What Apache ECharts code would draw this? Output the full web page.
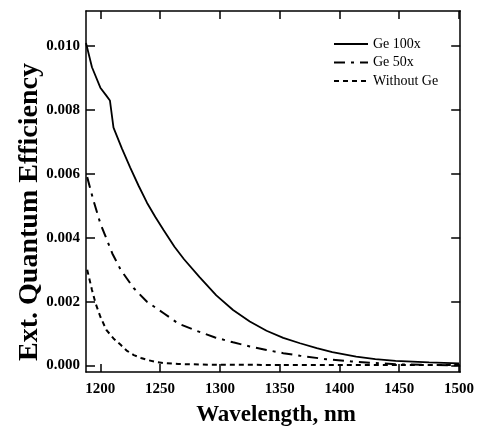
<!DOCTYPE html>
<html>
<head>
<meta charset="utf-8">
<script src="https://cdn.jsdelivr.net/npm/echarts@6/dist/echarts.min.js"></script>
<style>html,body{margin:0;padding:0;background:#fff}#c{width:477px;height:428px}</style>
</head>
<body>
<div id="c"></div>
<script>
var seriesNames = ['Ge 100x', 'Ge 50x', 'Without Ge'];
var xTicks = [1200, 1250, 1300, 1350, 1400, 1450, 1500];
var yTicks = [0.000, 0.002, 0.004, 0.006, 0.008, 0.010];

var ge100Nm = [1188, 1193, 1200, 1205, 1208, 1211, 1218, 1225, 1232, 1239, 1246, 1253, 1262, 1270, 1283, 1297, 1311, 1325, 1339, 1353, 1367, 1381, 1394, 1414, 1430, 1447, 1475, 1500];
var ge100Val = [0.0101, 0.00934, 0.0087, 0.00845, 0.0083, 0.00745, 0.0068, 0.0062, 0.00563, 0.0051, 0.00465, 0.00424, 0.00372, 0.00333, 0.00277, 0.0022, 0.00174, 0.00138, 0.00109, 0.00087, 0.0007, 0.00055, 0.00042, 0.00028, 0.0002, 0.00015, 0.0001, 0.00007];

var ge50Nm = [1189, 1194, 1200, 1204, 1210, 1217, 1228, 1239, 1253, 1265, 1281, 1296, 1311, 1325, 1339, 1353, 1367, 1389, 1410, 1430, 1450, 1475, 1500];
var ge50Val = [0.0059, 0.0052, 0.00445, 0.00408, 0.00351, 0.003, 0.00242, 0.002, 0.00164, 0.00132, 0.00108, 0.00088, 0.00073, 0.0006, 0.00049, 0.00039, 0.00031, 0.0002, 0.00013, 0.00008, 0.00004, 0.00002, 0.00001];

var noGeNm = [1189, 1193, 1196, 1200, 1205, 1211, 1217, 1222, 1228, 1234, 1239, 1246, 1253, 1265, 1290, 1350, 1400, 1450, 1500];
var noGeVal = [0.0030, 0.00237, 0.00195, 0.00153, 0.00112, 0.00085, 0.00065, 0.00047, 0.00033, 0.00024, 0.00018, 0.00012, 0.00008, 0.00005, 0.00003, 0.00002, 0.00002, 0.00002, 0.00002];

function pairs(xs, ys) { return xs.map(function (x, i) { return [x, ys[i]]; }); }

var FONT = 'Liberation Serif';
var axisLineStyle = { color: '#000', width: 1.5 };

function xAxisDef(pos, showLabel) {
  return {
    type: 'value', position: pos, min: 1188, max: 1501,
    axisLine: { show: true, onZero: false, lineStyle: axisLineStyle },
    axisTick: { show: true, inside: true, length: 8, customValues: xTicks, lineStyle: { color: '#000', width: 1.5 } },
    axisLabel: { show: showLabel, customValues: xTicks, margin: 10, color: '#000', fontFamily: FONT, fontWeight: 'bold', fontSize: 15,
      formatter: function (v) { return String(v); } },
    splitLine: { show: false }
  };
}
function yAxisDef(pos, showLabel) {
  return {
    type: 'value', position: pos, min: -0.0002, max: 0.0111,
    axisLine: { show: true, onZero: false, lineStyle: axisLineStyle },
    axisTick: { show: true, inside: true, length: 9, customValues: yTicks, lineStyle: { color: '#000', width: 1.5 } },
    axisLabel: { show: showLabel, customValues: yTicks, margin: 6, color: '#000', fontFamily: FONT, fontWeight: 'bold', fontSize: 15,
      formatter: function (v) { return v.toFixed(3); } },
    splitLine: { show: false }
  };
}

var chart = echarts.init(document.getElementById('c'), null, { renderer: 'canvas' });
chart.setOption({
  animation: false,
  backgroundColor: '#fff',
  grid: { left: 86, right: 15, top: 11, bottom: 56 },
  xAxis: [xAxisDef('bottom', true), xAxisDef('top', false)],
  yAxis: [yAxisDef('left', true), yAxisDef('right', false)],
  legend: {
    orient: 'vertical', left: 328, top: 32, itemWidth: 34, itemHeight: 14, itemGap: 4.5,
    itemStyle: { color: 'rgba(0,0,0,0)', borderWidth: 0, opacity: 0 },
    textStyle: { fontFamily: FONT, fontSize: 14, color: '#000' },
    data: seriesNames
  },
  graphic: [
    { type: 'text', x: 30, y: 212, rotation: Math.PI / 2,
      style: { text: 'Ext. Quantum Efficiency', fontFamily: FONT, fontWeight: 'bold', fontSize: 28, fill: '#000', align: 'center', verticalAlign: 'middle' } },
    { type: 'text', x: 276, y: 415,
      style: { text: 'Wavelength, nm', fontFamily: FONT, fontWeight: 'bold', fontSize: 23, fill: '#000', align: 'center', verticalAlign: 'middle' } }
  ],
  series: [
    { name: seriesNames[0], type: 'line', data: pairs(ge100Nm, ge100Val), showSymbol: false, symbol: 'none',
      lineStyle: { color: '#000', width: 1.8, type: 'solid' }, itemStyle: { color: '#000' } },
    { name: seriesNames[1], type: 'line', data: pairs(ge50Nm, ge50Val), showSymbol: false, symbol: 'none',
      lineStyle: { color: '#000', width: 2, type: [11, 6, 3, 6] }, itemStyle: { color: '#000' } },
    { name: seriesNames[2], type: 'line', data: pairs(noGeNm, noGeVal), showSymbol: false, symbol: 'none',
      lineStyle: { color: '#000', width: 2, type: [5, 4] }, itemStyle: { color: '#000' } }
  ]
});
</script>
</body>
</html>
